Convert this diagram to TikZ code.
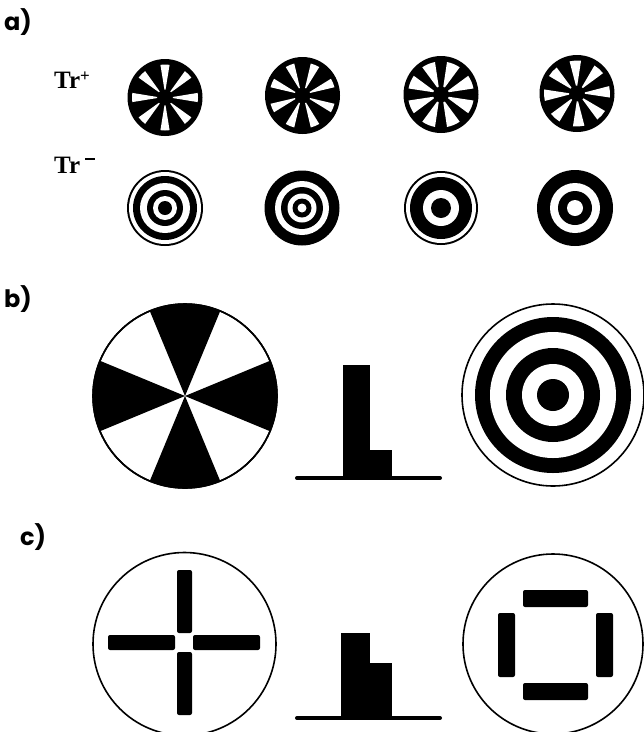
\documentclass[tikz,border=0pt]{standalone}
\usepackage{fontspec}
\newfontfamily\labfont{Poppins}
\newfontfamily\trfont{Liberation Serif}
\begin{document}
\begin{tikzpicture}[x=1pt,y=-1pt,
  panellabel/.style={inner sep=0pt,anchor=west,font=\labfont\bfseries\fontsize{24}{24}\selectfont},
  trlabel/.style={inner sep=0pt,anchor=west,font=\trfont\bfseries\fontsize{25}{25}\selectfont},
  outline/.style={draw=black,line width=1.6pt,fill=white},
  bar/.style={fill=black,rounded corners=2pt}]
\useasboundingbox (0,0) rectangle (644,732);
\fill[white] (0,0) rectangle (644,732);
\clip (0,0) rectangle (644,732);

% labels
\node[panellabel] (la) at (4,22) {a)};
\node[panellabel] (lb) at (4,299) {b)};
\node[panellabel] (lc) at (20,537) {c)};
\node[trlabel] (trp) at (54,80) {Tr\raisebox{7pt}{\fontsize{17}{17}\selectfont+}};
\node[trlabel] (trm) at (54,165) {Tr\hspace{5pt}\raisebox{13pt}{\rule{10pt}{2.6pt}}};

% ---- row a: pinwheels ----
% #1 cx, #2 cy, #3 offset angle, #4 half width
\newcommand{\mypinwheel}[4]{%
  \fill[black] (#1,#2) ellipse[x radius=37.5,y radius=38.5];
  \foreach \k in {0,...,7}{
    \pgfmathsetmacro{\aa}{#3+45*\k}
    \fill[white,shift={(#1,#2)}] (\aa-#4*0.5:8) -- (\aa-#4:33) arc[start angle=\aa-#4,end angle=\aa+#4,radius=33] -- (\aa+#4*0.5:8) -- cycle;
  }}
\mypinwheel{165}{97.5}{0}{8}
\mypinwheel{302.5}{95.5}{22.5}{8}
\mypinwheel{441}{94.5}{22.5}{12}
\mypinwheel{577}{93.5}{-3}{10}

% ---- row a: rings ----
\begin{scope}[shift={(165,208)}]
  \fill[black] (0,0) circle[radius=38];
  \fill[white] (0,0) circle[radius=36];
  \fill[black] (0,0) circle[radius=32];
  \fill[white] (0,0) circle[radius=25];
  \fill[black] (0,0) circle[radius=18];
  \fill[white] (0,0) circle[radius=12];
  \fill[black] (0,0) circle[radius=7];
\end{scope}
\begin{scope}[shift={(302,208)}]
  \fill[black] (0,0) circle[radius=37.5];
  \fill[white] (0,0) circle[radius=27];
  \fill[black] (0,0) circle[radius=21];
  \fill[white] (0,0) circle[radius=14.5];
  \fill[black] (0,0) circle[radius=9.5];
  \fill[white] (0,0) circle[radius=4.5];
\end{scope}
\begin{scope}[shift={(441,208)}]
  \fill[black] (0,0) circle[radius=37];
  \fill[white] (0,0) circle[radius=35];
  \fill[black] (0,0) circle[radius=31];
  \fill[white] (0,0) circle[radius=18];
  \fill[black] (0,0) circle[radius=10];
\end{scope}
\begin{scope}[shift={(575,208)}]
  \fill[black] (0,0) circle[radius=38];
  \fill[white] (0,0) circle[radius=25];
  \fill[black] (0,0) circle[radius=17];
  \fill[white] (0,0) circle[radius=8];
\end{scope}

% ---- b: big pinwheel ----
\begin{scope}[shift={(185,396)}]
  \draw[outline] (0,0) circle[radius=92];
  \foreach \a in {0,90,180,270}{
    \fill[black] (0,0) -- (\a-22.5:92) arc[start angle=\a-22.5,end angle=\a+22.5,radius=92] -- cycle;
  }
  \draw[line width=1.6pt] (0,0) circle[radius=92];
\end{scope}

% ---- b: histogram ----
\fill[black] (343,365) rectangle (370,478);
\fill[black] (369,450) rectangle (392,478);
\draw[line width=4pt,line cap=round] (297,478) -- (440,478);

% ---- b: target ----
\begin{scope}[shift={(553,395)}]
  \draw[outline] (0,0) circle[radius=91];
  \fill[black] (0,0) circle[radius=78];
  \fill[white] (0,0) circle[radius=63];
  \fill[black] (0,0) circle[radius=47];
  \fill[white] (0,0) circle[radius=31];
  \fill[black] (0,0) circle[radius=16];
\end{scope}

% ---- c: cross ----
\draw[outline] (184.5,644) circle[radius=91.5];
\fill[bar] (177,570) rectangle (192,633);
\fill[bar] (177,652) rectangle (192,715);
\fill[bar] (108,635) rectangle (175,650);
\fill[bar] (193,635) rectangle (260,650);

% ---- c: histogram ----
\fill[black] (341,633) rectangle (370,718);
\fill[black] (369,663) rectangle (392,718);
\draw[line width=4pt,line cap=round] (297,718) -- (440,718);

% ---- c: square of bars ----
\draw[outline] (553,644) circle[radius=90];
\fill[bar] (523,590) rectangle (588,607);
\fill[bar] (523,683) rectangle (588,700);
\fill[bar] (498,613) rectangle (515,677);
\fill[bar] (596,613) rectangle (613,677);
\end{tikzpicture}
\end{document}
